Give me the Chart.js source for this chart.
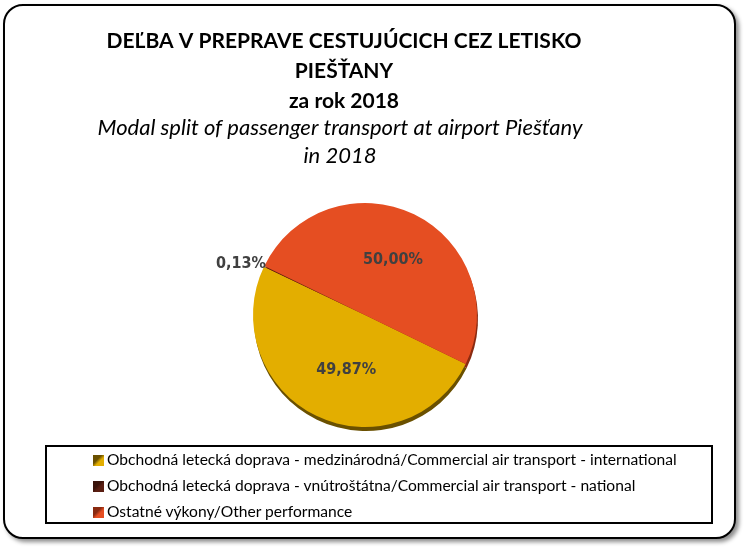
<!DOCTYPE html>
<html>
<head>
<meta charset="utf-8">
<script src="https://cdn.jsdelivr.net/npm/chart.js@4.4.1/dist/chart.umd.min.js"></script>
<style>
  body { margin: 0; width: 748px; height: 552px; background: #fff; position: relative; overflow: hidden; }
  .frame {
    position: absolute; left: 3px; top: 4px; width: 733px; height: 535px;
    box-sizing: border-box; border: 2px solid #000; border-radius: 20px;
    box-shadow: 3px 3px 4px rgba(0,0,0,0.45); background: #fff;
  }
  #chart { position: absolute; left: 0; top: 0; }
  .legend {
    position: absolute; left: 45px; top: 445px; width: 668px; height: 79px;
    box-sizing: border-box; border: 2px solid #000;
    font-family: Lato, sans-serif; font-size: 15.6px; color: #000;
  }
  .legend .item { position: absolute; left: 46px; height: 20px; line-height: 20px; white-space: nowrap; }
  .legend .mark { display: inline-block; width: 11px; height: 11px; margin-right: 3px; vertical-align: -1px; }
</style>
</head>
<body>
<div class="frame"></div>
<canvas id="chart" width="748" height="552"></canvas>
<div id="legend" class="legend"></div>
<script>
// data
const labels = [
  'Obchodná letecká doprava - medzinárodná/Commercial air transport - international',
  'Obchodná letecká doprava - vnútroštátna/Commercial air transport - national',
  'Ostatné výkony/Other performance'
];
const shares = [49.87, 0.13, 50.00];
const colors = ['#E3AE00', '#5A1E12', '#E54E22'];
const rimColors = ['#6A5000', '#3A130B', '#8A2A10'];

const titleLines = ['DEĽBA V PREPRAVE CESTUJÚCICH CEZ LETISKO', 'PIEŠŤANY', 'za rok 2018'];
const subtitleLines = ['Modal split of passenger transport at airport Piešťany', 'in 2018'];

// where the value labels sit: angle from 12 o'clock (deg), distance as part of radius
const labelSpots = [[199, 0.515], [292.6, 1.2], [26.8, 0.555]];

const fmt = v => v.toFixed(2).replace('.', ',') + '%';

// dark rim under the pie, a bit of fake 3d
const rimPlugin = {
  id: 'rim',
  beforeDatasetsDraw(chart) {
    const ctx = chart.ctx;
    chart.getDatasetMeta(0).data.forEach((arc, i) => {
      ctx.save();
      ctx.fillStyle = rimColors[i];
      ctx.beginPath();
      ctx.moveTo(arc.x + 1, arc.y + 4);
      ctx.arc(arc.x + 1, arc.y + 4, arc.outerRadius, arc.startAngle, arc.endAngle);
      ctx.closePath();
      ctx.fill();
      ctx.restore();
    });
  }
};

const valuePlugin = {
  id: 'values',
  afterDatasetsDraw(chart) {
    const ctx = chart.ctx;
    ctx.save();
    ctx.font = 'bold 16px "DejaVu Sans Condensed", "DejaVu Sans", sans-serif';
    ctx.fillStyle = '#404040';
    ctx.textAlign = 'center';
    ctx.textBaseline = 'middle';
    chart.getDatasetMeta(0).data.forEach((arc, i) => {
      const a = labelSpots[i][0] * Math.PI / 180;
      const r = labelSpots[i][1] * arc.outerRadius;
      ctx.fillText(fmt(shares[i]), arc.x + r * Math.sin(a), arc.y - r * Math.cos(a));
    });
    ctx.restore();
  }
};

const titlePlugin = {
  id: 'titles',
  afterDraw(chart) {
    const ctx = chart.ctx;
    ctx.save();
    ctx.fillStyle = '#000';
    ctx.textAlign = 'center';
    ctx.textBaseline = 'middle';
    ctx.font = 'bold 21px Lato, sans-serif';
    titleLines.forEach((t, i) => ctx.fillText(t, 344, 41 + i * 30));
    ctx.font = 'italic 22px Lato, sans-serif';
    subtitleLines.forEach((t, i) => ctx.fillText(t, 340, 128 + i * 28));
    ctx.restore();
  }
};

new Chart(document.getElementById('chart'), {
  type: 'pie',
  data: {
    labels: labels,
    datasets: [{
      data: shares,
      backgroundColor: colors,
      borderWidth: 0
    }]
  },
  options: {
    responsive: false,
    animation: false,
    rotation: 116,
    layout: { padding: { left: 253, right: 271, top: 203, bottom: 125 } },
    plugins: {
      legend: { display: false },
      tooltip: { enabled: false }
    }
  },
  plugins: [rimPlugin, valuePlugin, titlePlugin]
});

// legend box
const legendEl = document.getElementById('legend');
const rowTops = [2, 28, 54];
labels.forEach((l, i) => {
  const row = document.createElement('div');
  row.className = 'item';
  row.style.top = rowTops[i] + 'px';
  const mark = document.createElement('span');
  mark.className = 'mark';
  mark.style.background = 'linear-gradient(to bottom right, ' + rimColors[i] + ' 0%, ' + rimColors[i] + ' 40%, ' + colors[i] + ' 60%)';
  row.appendChild(mark);
  row.appendChild(document.createTextNode(l));
  legendEl.appendChild(row);
});
</script>
</body>
</html>
